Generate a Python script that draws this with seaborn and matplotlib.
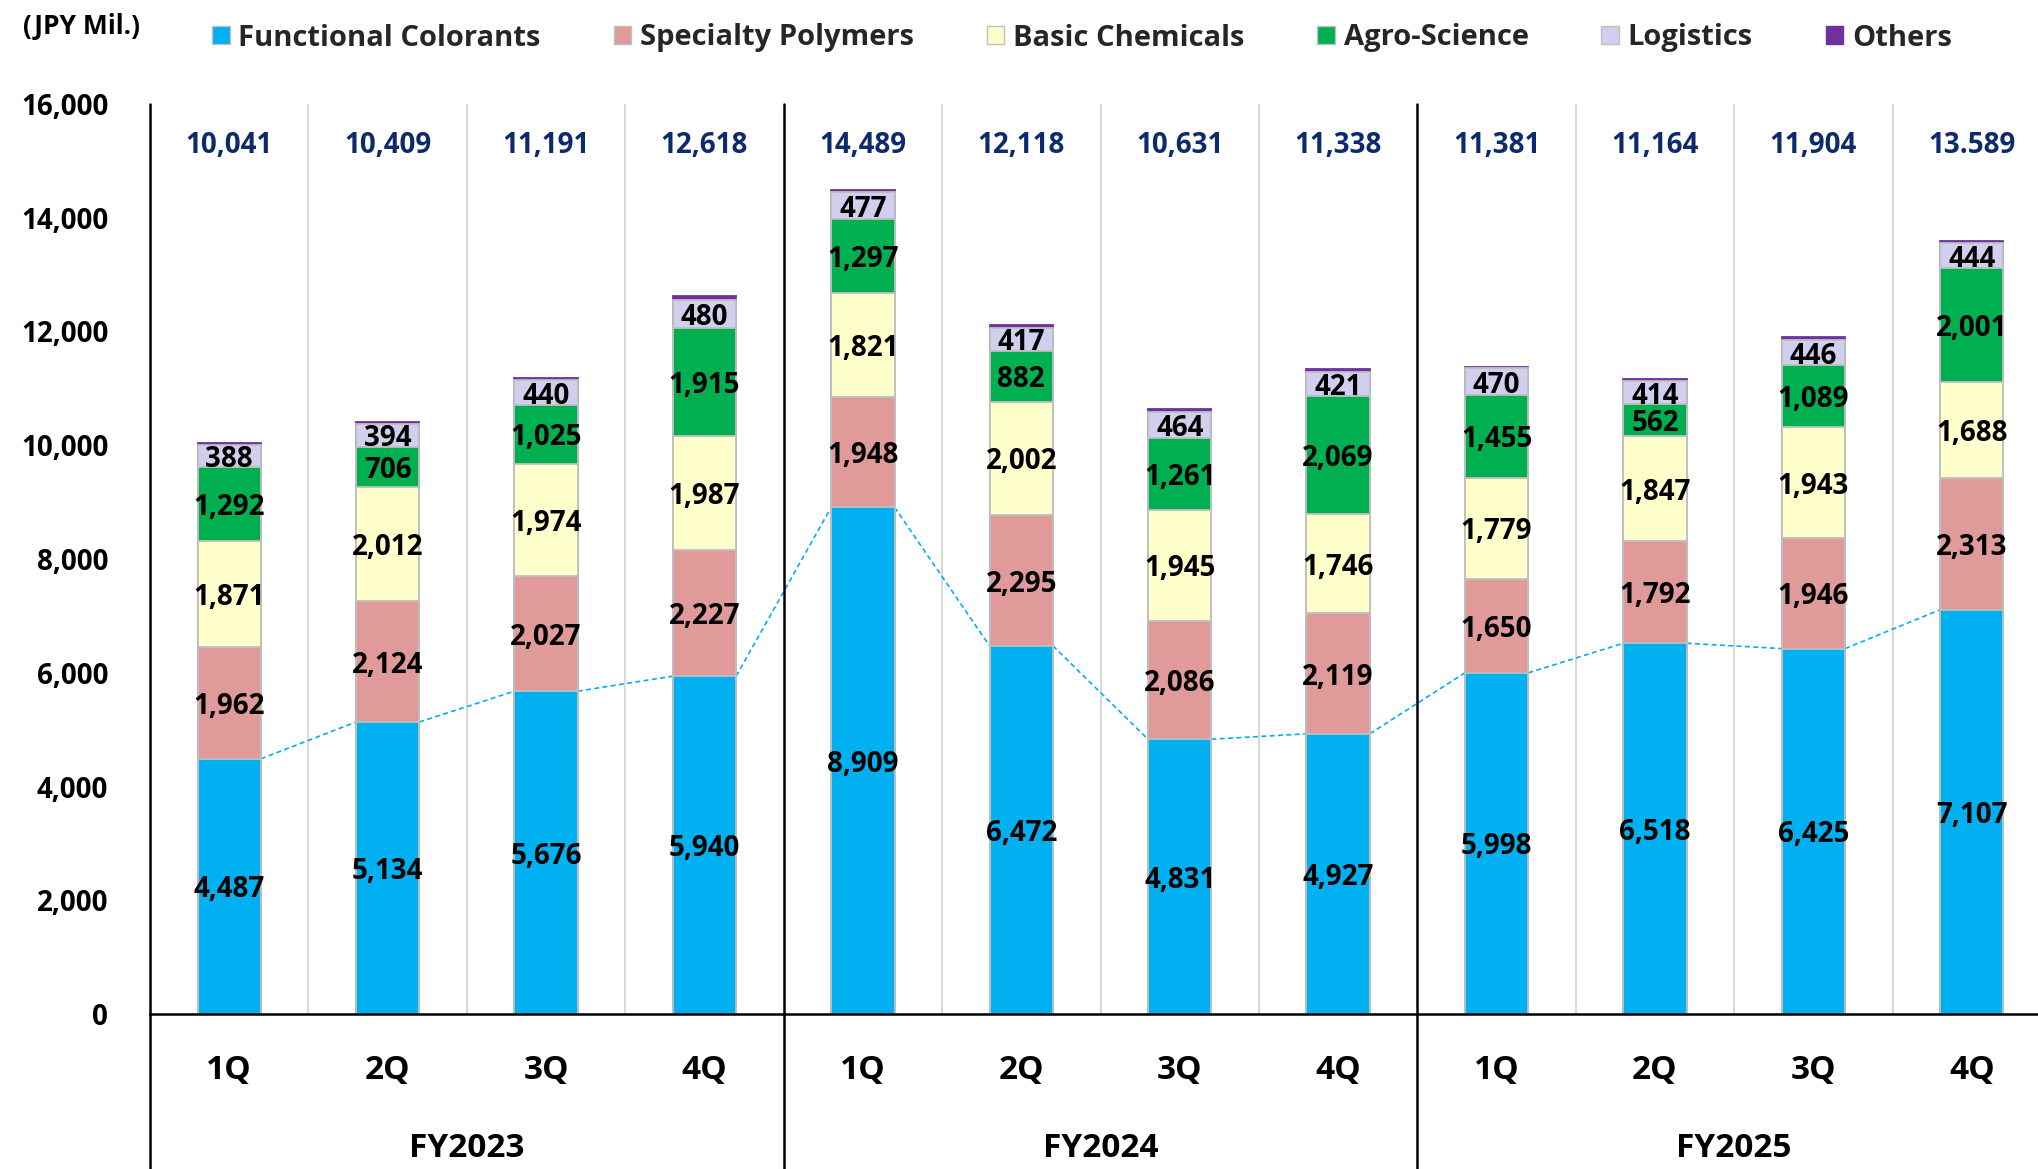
import numpy as np
import pandas as pd
import matplotlib
matplotlib.use("Agg")
import matplotlib.pyplot as plt
from matplotlib.patches import Patch
from matplotlib.transforms import blended_transform_factory
import seaborn as sns

# Quarterly net sales by segment (JPY Mil.)
fiscal_years = ["FY2023", "FY2024", "FY2025"]
quarters = ["1Q", "2Q", "3Q", "4Q"]
functional_colorants = [4487, 5134, 5676, 5940, 8909, 6472, 4831, 4927, 5998, 6518, 6425, 7107]
specialty_polymers = [1962, 2124, 2027, 2227, 1948, 2295, 2086, 2119, 1650, 1792, 1946, 2313]
basic_chemicals = [1871, 2012, 1974, 1987, 1821, 2002, 1945, 1746, 1779, 1847, 1943, 1688]
agro_science = [1292, 706, 1025, 1915, 1297, 882, 1261, 2069, 1455, 562, 1089, 2001]
logistics = [388, 394, 440, 480, 477, 417, 464, 421, 470, 414, 446, 444]
others = [41, 39, 49, 69, 37, 50, 44, 56, 29, 31, 55, 36]
total_labels = ["10,041", "10,409", "11,191", "12,618", "14,489", "12,118",
                "10,631", "11,338", "11,381", "11,164", "11,904", "13.589"]

segment_names = ["Functional Colorants", "Specialty Polymers", "Basic Chemicals",
                 "Agro-Science", "Logistics", "Others"]
segment_values = [functional_colorants, specialty_polymers, basic_chemicals,
                  agro_science, logistics, others]
segment_colors = ["#00B0F0", "#E09A9A", "#FFFFCC", "#00B050", "#D0D0EE", "#7030A0"]

sns.set_theme(style="white")
plt.rcParams["font.family"] = ["Open Sans", "DejaVu Sans"]
WEIGHT = "bold"

slots = [f"{fy} {q}" for fy in fiscal_years for q in quarters]
n = len(slots)
values = np.array(segment_values, dtype=float)
cumulative = np.cumsum(values, axis=0)

df = pd.DataFrame({"slot": slots})
for name, cum in zip(segment_names, cumulative):
    df[name] = cum

W, H = 2038, 1169
fig = plt.figure(figsize=(W / 100, H / 100), dpi=100)
ax_left, ax_bottom_px, ax_top_px = 150, 1014, 104
slot_px = 1901 / 12
ax = fig.add_axes([ax_left / W, (H - ax_bottom_px) / H,
                   slot_px * n / W, (ax_bottom_px - ax_top_px) / H])

bar_w = 0.40
edge = "#BFBFBF"
# stacked bars: draw cumulative heights from the top segment down
for name, color in reversed(list(zip(segment_names, segment_colors))):
    ec = color if name == "Others" else edge
    sns.barplot(data=df, x="slot", y=name, order=slots, color=color, saturation=1,
                width=bar_w, errorbar=None, edgecolor=ec, linewidth=1.3, ax=ax, zorder=3)

ax.set_xlim(-0.5, n - 0.5)
ax.set_ylim(0, 16000)
ax.set_xlabel("")
ax.set_ylabel("")

# separators
for i in range(n - 1):
    x = i + 0.5
    if (i + 1) % 4 == 0:
        ax.axvline(x, ymin=-0.2, ymax=1, color="black", lw=1.8, clip_on=False, zorder=4)
    else:
        ax.axvline(x, ymin=0, ymax=1, color="#D9D9D9", lw=1.5, zorder=1)
ax.axvline(-0.5, ymin=-0.2, ymax=1, color="black", lw=1.8, clip_on=False, zorder=4)

for s in ["top", "right", "left"]:
    ax.spines[s].set_visible(False)
ax.spines["bottom"].set_color("black")
ax.spines["bottom"].set_linewidth(1.8)
ax.spines["bottom"].set_zorder(5)

ax.set_yticks(np.arange(0, 16001, 2000))
ax.set_yticklabels([f"{v:,}" for v in range(0, 16001, 2000)],
                   fontsize=20, fontweight=WEIGHT, color="black")
ax.tick_params(axis="y", length=0, pad=30)
ax.set_xticks([])

# dashed trend line linking functional colorants bar tops
fc = np.array(functional_colorants, dtype=float)
lx, ly = [], []
for i in range(n - 1):
    lx += [i + bar_w / 2, i + 1 - bar_w / 2, np.nan]
    ly += [fc[i], fc[i + 1], np.nan]
ax.plot(lx, ly, color="#00B0F0", lw=1.2, ls=(0, (3, 2)), zorder=2)

# segment value labels
bottoms = cumulative - values
for k, name in enumerate(segment_names[:-1]):
    for i in range(n):
        ax.text(i, bottoms[k, i] + values[k, i] / 2, f"{int(values[k, i]):,}",
                ha="center", va="center_baseline", fontsize=20, fontweight=WEIGHT,
                color="black", zorder=6)

# totals
for i, lab in enumerate(total_labels):
    ax.text(i, 15330, lab, ha="center", va="center_baseline", fontsize=20,
            fontweight=WEIGHT, color="#0E2A6E", zorder=6)

# quarter and fiscal-year labels under the axis
trans = blended_transform_factory(ax.transData, ax.transAxes)
for i, slot in enumerate(slots):
    ax.text(i, -0.062, quarters[i % 4], transform=trans, ha="center", va="center",
            fontsize=24, fontweight=WEIGHT, color="black", clip_on=False)
for j, fy in enumerate(fiscal_years):
    ax.text(4 * j + 1.5, -0.148, fy, transform=trans, ha="center", va="center",
            fontsize=24, fontweight=WEIGHT, color="black", clip_on=False)

fig.text(23 / W, 1 - 26 / H, "(JPY Mil.)", ha="left", va="center",
         fontsize=19, fontweight=WEIGHT, color="black")

handles = [Patch(facecolor=c, edgecolor=edge if nm != "Others" else c, linewidth=1)
           for nm, c in zip(segment_names, segment_colors)]
fig.legend(handles, segment_names, loc="center left", bbox_to_anchor=(212 / W, 1 - 38 / H),
           ncol=6, frameon=False, handlelength=0.6, handleheight=0.6,
           handletextpad=0.3, columnspacing=2.5, borderaxespad=0, borderpad=0,
           prop={"size": 21, "weight": WEIGHT})

fig.savefig("out.png", dpi=100)
